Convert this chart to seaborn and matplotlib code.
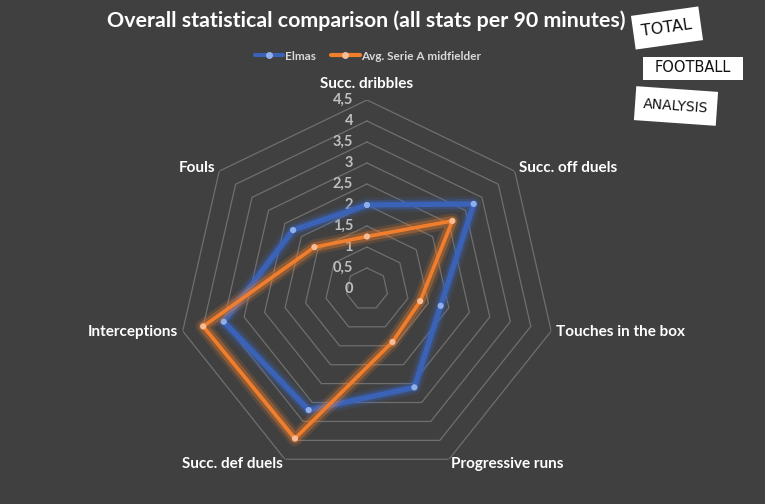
import numpy as np
import pandas as pd
import matplotlib
matplotlib.use("Agg")
import matplotlib.pyplot as plt
import seaborn as sns
from matplotlib.lines import Line2D
from matplotlib.patches import Rectangle
from matplotlib.transforms import IdentityTransform

categories = ["Succ. dribbles", "Succ. off duels", "Touches in the box", "Progressive runs",
              "Succ. def duels", "Interceptions", "Fouls"]
elmas = [2.0, 3.25, 1.8, 2.6, 3.2, 3.5, 2.25]
avg_mid = [1.25, 2.6, 1.3, 1.4, 3.95, 4.0, 1.6]
ticks = [0, 0.5, 1, 1.5, 2, 2.5, 3, 3.5, 4, 4.5]
tick_labels = ["0", "0,5", "1", "1,5", "2", "2,5", "3", "3,5", "4", "4,5"]
series_names = ["Elmas", "Avg. Serie A midfielder"]

bg = "#404040"
grid_col = "#6f6f6f"
blue, blue_dot = "#3a63b8", "#8fb0ea"
orange, orange_dot = "#f07e2c", "#f9bd95"

sns.set_theme(style="dark")
plt.rcParams["font.family"] = ["Lato", "DejaVu Sans"]
plt.rcParams["font.weight"] = "bold"

n = len(categories)
angles = np.linspace(0, 2 * np.pi, n, endpoint=False)
closed = np.append(angles, 2 * np.pi)

df = pd.DataFrame({
    "angle": np.concatenate([closed, closed]),
    "value": elmas + [elmas[0]] + avg_mid + [avg_mid[0]],
    "series": [series_names[0]] * (n + 1) + [series_names[1]] * (n + 1),
})

W, H = 765, 504
fig = plt.figure(figsize=(W / 100, H / 100), dpi=100, facecolor=bg)
ax = fig.add_axes([0.2326, 0.0516, 0.4942, 0.75], projection="polar")
ax.set_theta_offset(np.pi / 2)
ax.set_theta_direction(-1)
ax.set_ylim(0, 4.5)
ax.patch.set_alpha(0)
ax.grid(False)
ax.spines["polar"].set_visible(False)
ax.set_xticks([])
ax.set_yticks([])

# heptagon grid rings
for t in ticks[1:]:
    ax.plot(closed, [t] * (n + 1), color=grid_col, lw=0.9, zorder=1)

# tick labels along the top axis
for t, lbl in zip(ticks, tick_labels):
    ax.annotate(lbl, xy=(0, t), xytext=(-14, 0), textcoords="offset pixels",
                ha="right", va="center", color="#bfbfbf", fontsize=10.5,
                fontweight="bold", annotation_clip=False)

# series with glow
for name, col, dot, z in [(series_names[0], blue, blue_dot, 3), (series_names[1], orange, orange_dot, 6)]:
    sub = df[df["series"] == name]
    for lw, a in [(11, 0.15), (7, 0.35)]:
        sns.lineplot(data=sub, x="angle", y="value", sort=False, color=col, lw=lw,
                     alpha=a, ax=ax, zorder=z, legend=False)
    core_lw = 3.8 if name == series_names[0] else 2.6
    sns.lineplot(data=sub, x="angle", y="value", sort=False, color=col, lw=core_lw,
                 ax=ax, zorder=z + 1, legend=False)
    sns.scatterplot(data=sub.iloc[:-1], x="angle", y="value", color=dot, s=20,
                    edgecolor="none", ax=ax, zorder=z + 2, legend=False)
ax.set_xlabel("")
ax.set_ylabel("")
ax.set_ylim(0, 4.5)

# category labels
for ang, cat in zip(angles, categories):
    s = np.sin(ang)
    if abs(s) < 0.1:
        ax.text(ang, 4.72, cat, ha="center", va="bottom", color="white",
                fontsize=11, fontweight="bold")
    else:
        ha = "left" if s > 0 else "right"
        ax.text(ang, 4.62, cat, ha=ha, va="center", color="white",
                fontsize=11, fontweight="bold")

fig.text(366 / W, 1 - 21 / H, "Overall statistical comparison (all stats per 90 minutes)",
         ha="center", va="center", color="white", fontsize=15.4, fontweight="bold")

handles = [
    Line2D([0], [0], color=blue, lw=3, marker="o", markersize=4,
           markerfacecolor=blue_dot, markeredgecolor=blue_dot),
    Line2D([0], [0], color=orange, lw=3, marker="o", markersize=4,
           markerfacecolor=orange_dot, markeredgecolor=orange_dot),
]
leg = fig.legend(handles, series_names, loc="center", bbox_to_anchor=(368 / W, 1 - 56 / H),
                 ncol=2, frameon=False, fontsize=8.5, handlelength=2.4, handletextpad=0.15,
                 columnspacing=1.3)
for txt in leg.get_texts():
    txt.set_color("#d9d9d9")
    txt.set_fontweight("bold")

# logo boxes (pixel centre, size, rotation, font size)
logo = [("TOTAL", 667, 28, 68, 34, 8, 11.5),
        ("FOOTBALL", 693, 68, 100, 23, 0, 10.5),
        ("ANALYSIS", 676, 106, 82, 34, -4, 10)]
for word, cx, cy, w, h, rot, fs in logo:
    box = Rectangle((cx - w / 2, H - cy - h / 2), w, h, angle=rot, rotation_point="center",
                    facecolor="white", edgecolor="none", transform=IdentityTransform())
    fig.patches.append(box)
    fig.text(cx, H - cy, word, ha="center", va="center", rotation=rot,
             rotation_mode="anchor", color="#111111", fontsize=fs,
             family="DejaVu Sans", fontweight="normal", transform=IdentityTransform())

fig.savefig("out.png", dpi=100, facecolor=bg)
